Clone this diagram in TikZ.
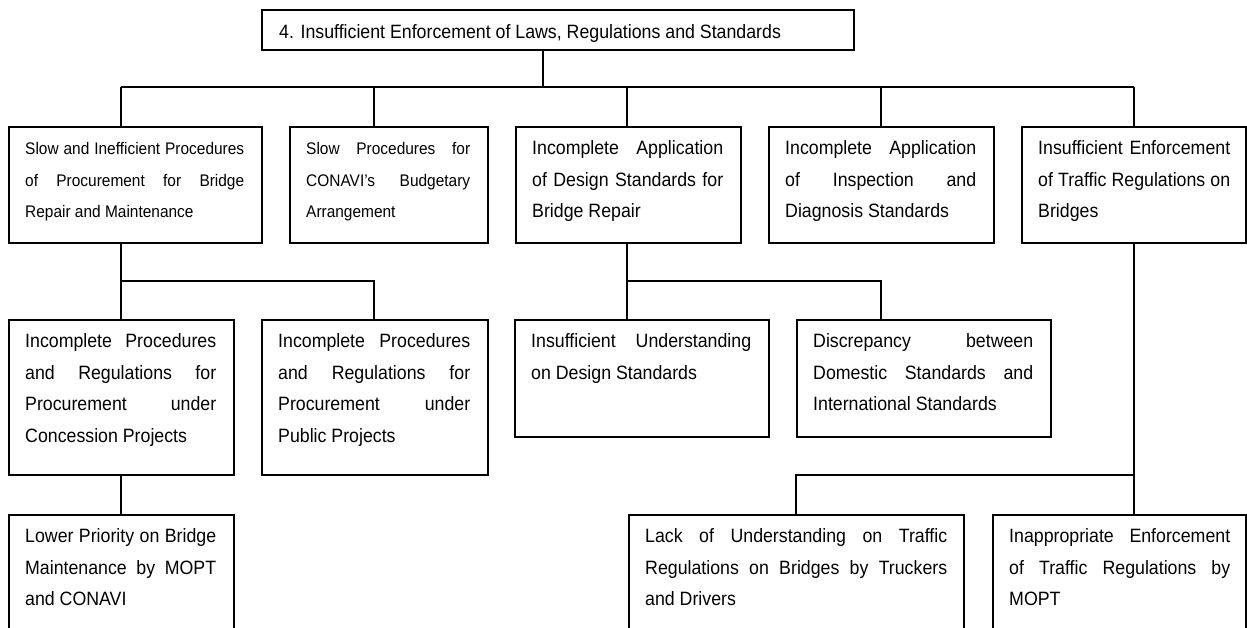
\documentclass[tikz,border=0pt]{standalone}
\usepackage{fontspec}
\setmainfont{Liberation Sans}[FakeStretch=0.92]
\usetikzlibrary{calc}

\tikzset{
  frame/.style={draw, line width=1.5pt, anchor=north west, inner sep=0pt},
  boxtext/.style={anchor=base west, inner sep=0pt, align=justify,
    font=\fontsize{19.3}{31.5}\selectfont},
  smalltext/.style={font=\fontsize{16.8}{31.5}\selectfont},
  link/.style={line width=1.5pt},
}

% #1 name, #2 left, #3 top, #4 width, #5 height, #6 text width, #7 text options, #8 text
\newcommand\causebox[8]{%
  \node[frame, minimum width=#4pt, minimum height=#5pt] (#1) at (#2,#3) {};
  \node[boxtext, text width=#6pt, #7] (#1t) at ($(#1.north west)+(17,28.5)$) {#8};
}

\begin{document}
\begin{tikzpicture}[x=1pt, y=-1pt]
  \useasboundingbox (0,0) rectangle (1247,627);
  \clip (0,0) rectangle (1247,627);

  % main problem
  \node[frame, minimum width=592pt, minimum height=40pt] (top) at (261,9) {};
  \node[anchor=base west, inner sep=0pt, font=\fontsize{19.3}{24}\selectfont]
    (topt) at ($(top.north west)+(18,29)$)
    {4. Insufficient Enforcement of Laws, Regulations and Standards};

  % first level causes
  \causebox{b1}{8}{126}{253}{116}{219}{smalltext}{Slow and Inefficient Procedures\linebreak of Procurement for Bridge\linebreak Repair and Maintenance}
  \causebox{b2}{289}{126}{198}{116}{164}{smalltext}{Slow Procedures for\linebreak CONAVI’s Budgetary\linebreak Arrangement}
  \causebox{b3}{515}{126}{225}{116}{191}{}{Incomplete Application\linebreak of Design Standards for\linebreak Bridge Repair}
  \causebox{b4}{768}{126}{225}{116}{191}{}{Incomplete Application\linebreak of Inspection and\linebreak Diagnosis Standards}
  \causebox{b5}{1021}{126}{224}{116}{192}{}{Insufficient Enforcement\linebreak of Traffic Regulations on\linebreak Bridges}

  % second level causes
  \causebox{c1}{8}{319}{225}{155}{191}{}{Incomplete Procedures\linebreak and Regulations for\linebreak Procurement under\linebreak Concession Projects}
  \causebox{c2}{261}{319}{226}{155}{192}{}{Incomplete Procedures\linebreak and Regulations for\linebreak Procurement under\linebreak Public Projects}
  \causebox{c3}{514}{319}{254}{117}{220}{}{Insufficient Understanding\linebreak on Design Standards}
  \causebox{c4}{796}{319}{254}{117}{220}{}{Discrepancy between\linebreak Domestic Standards and\linebreak International Standards}

  % third level causes (running past the lower edge)
  \causebox{d1}{8}{514}{225}{140}{191}{}{Lower Priority on Bridge\linebreak Maintenance by MOPT\linebreak and CONAVI}
  \causebox{d2}{628}{514}{335}{140}{302}{}{Lack of Understanding on Traffic\linebreak Regulations on Bridges by Truckers\linebreak and Drivers}
  \causebox{d3}{992}{514}{253}{140}{221}{}{Inappropriate Enforcement\linebreak of Traffic Regulations by\linebreak MOPT}

  % junction points
  \coordinate (j0) at (543,87);
  \coordinate (jl) at (121,87);
  \coordinate (jr) at (1134,87);
  \coordinate (k1) at (121,281);
  \coordinate (k2) at (374,281);
  \coordinate (k3) at (627,281);
  \coordinate (k4) at (881,281);
  \coordinate (k5) at (1134,475);
  \coordinate (k6) at (796,475);

  % connectors
  \draw[link] (j0 |- top.south) -- (j0);
  \draw[link] (jl) -- (jr);
  \draw[link] (jl) -- (jl |- b1.north);
  \draw[link] (k2 |- jl) -- (k2 |- b2.north);
  \draw[link] (k3 |- jl) -- (k3 |- b3.north);
  \draw[link] (k4 |- jl) -- (k4 |- b4.north);
  \draw[link] (jr) -- (jr |- b5.north);

  \draw[link] (k1 |- b1.south) -- (k1) -- (k2) -- (k2 |- c2.north);
  \draw[link] (k1) -- (k1 |- c1.north);
  \draw[link] (k3 |- b3.south) -- (k3) -- (k4) -- (k4 |- c4.north);
  \draw[link] (k3) -- (k3 |- c3.north);

  \draw[link] (k1 |- c1.south) -- (k1 |- d1.north);
  \draw[link] (k5 |- b5.south) -- (k5) -- (k5 |- d3.north);
  \draw[link] (k5) -- (k6) -- (k6 |- d2.north);
\end{tikzpicture}
\end{document}
